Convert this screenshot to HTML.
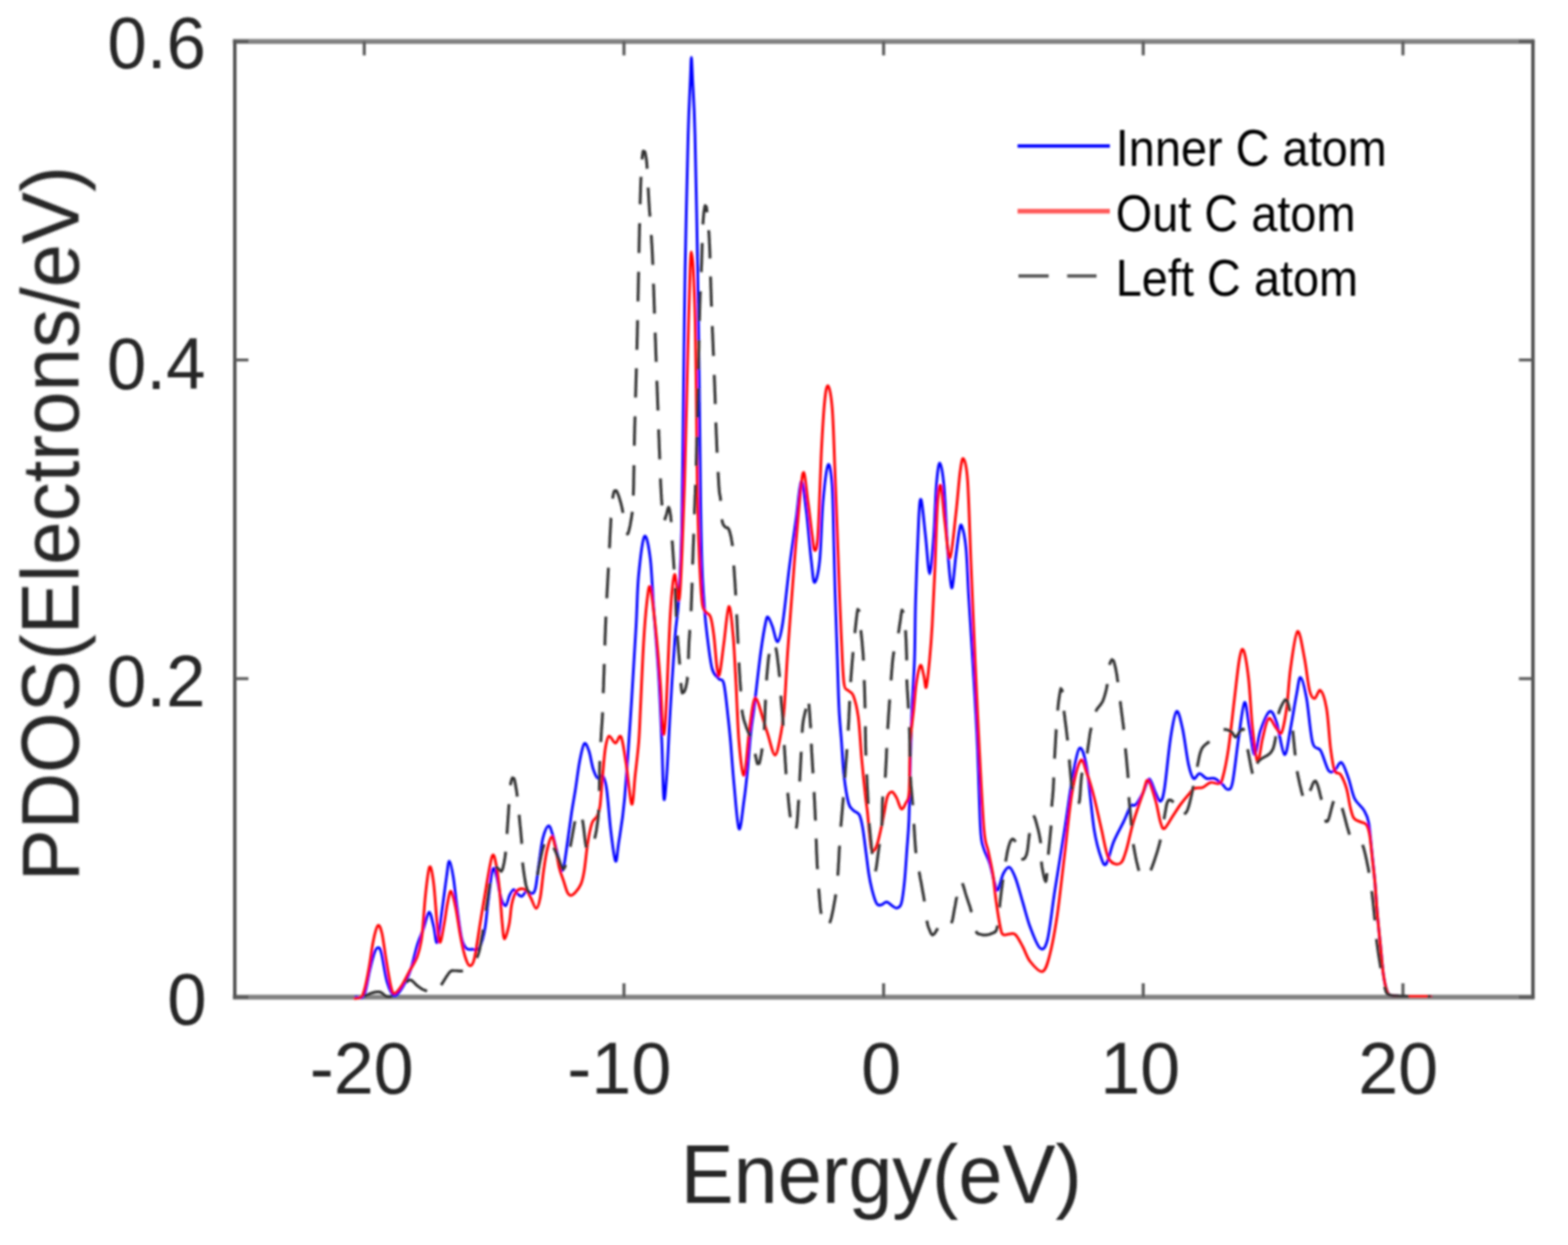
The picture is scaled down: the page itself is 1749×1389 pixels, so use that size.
<!DOCTYPE html>
<html><head><meta charset="utf-8"><title>PDOS</title>
<style>html,body{margin:0;padding:0;background:#fff;overflow:hidden;}svg{display:block;}text{font-family:"Liberation Sans",Arial,Helvetica,sans-serif;}</style></head><body>
<svg width="1749" height="1389" viewBox="0 0 1749 1389">
<defs><filter id="b" x="0" y="0" width="1749" height="1389" filterUnits="userSpaceOnUse"><feGaussianBlur stdDeviation="0.8"/></filter></defs>
<rect width="1749" height="1389" fill="#fff"/>
<g filter="url(#b)">
<path d="M259.7 46.2H1711.6M259.7 1112.5H1711.6" stroke="#828282" stroke-width="5.4" fill="none"/>
<path d="M261.9 44.4V1114.3M1709.9 44.4V1114.3" stroke="#505050" stroke-width="3.8" fill="none"/>
<path d="M406.3 46.2V61.8M696.0 1112.5V1096.9M696.0 46.2V61.8M985.6 1112.5V1096.9M985.6 46.2V61.8M1275.2 1112.5V1096.9M1275.2 46.2V61.8M1564.9 1112.5V1096.9M1564.9 46.2V61.8M261.5 1112.5H277.1M1709.8 1112.5H1694.2M261.5 757.1H277.1M1709.8 757.1H1694.2M261.5 401.6H277.1M1709.8 401.6H1694.2M261.5 46.2H277.1M1709.8 46.2H1694.2" stroke="#5a5a5a" stroke-width="3.4" fill="none"/>
<g fill="none" stroke-linejoin="round" stroke-linecap="round">
<path d="M397.0 1112.0C398.5 1111.8 403.3 1116.0 405.9 1111.1C408.5 1106.2 410.4 1090.6 412.4 1082.6C414.3 1074.6 416.1 1067.3 417.6 1063.1C419.1 1058.9 420.2 1057.3 421.5 1057.3C422.8 1057.3 423.7 1056.7 425.4 1063.1C427.1 1069.5 429.4 1087.5 431.8 1095.5C434.2 1103.5 436.8 1109.9 439.6 1111.0C442.4 1112.1 445.7 1106.7 448.7 1102.0C451.7 1097.3 455.0 1090.6 457.8 1082.6C460.6 1074.6 463.1 1061.7 465.5 1054.1C467.9 1046.5 469.8 1043.2 472.0 1037.2C474.2 1031.2 476.6 1018.4 478.5 1017.8C480.4 1017.1 482.2 1027.7 483.7 1033.3C485.2 1038.9 486.1 1054.1 487.6 1051.5C489.1 1048.9 491.1 1029.9 492.8 1017.8C494.5 1005.7 496.6 988.4 498.0 978.9C499.4 969.4 499.9 960.7 501.2 960.7C502.5 960.7 504.3 970.5 505.7 978.9C507.1 987.3 508.1 1000.1 509.6 1011.3C511.1 1022.5 513.1 1038.5 514.8 1046.3C516.5 1054.1 518.0 1055.9 520.0 1058.0C522.0 1060.1 524.6 1059.0 527.0 1059.0C529.4 1059.0 531.9 1061.6 534.2 1058.0C536.5 1054.4 539.0 1046.1 540.7 1037.2C542.4 1028.3 543.1 1016.0 544.6 1004.8C546.1 993.6 547.9 974.3 549.5 970.0C551.1 965.7 552.7 973.5 554.2 978.8C555.7 984.0 557.1 996.2 558.7 1001.5C560.3 1006.8 562.4 1011.0 564.0 1010.5C565.6 1010.0 567.1 1001.5 568.6 998.5C570.1 995.5 571.7 992.7 573.1 992.4C574.5 992.1 575.4 995.6 576.9 996.9C578.4 998.2 580.4 1000.5 582.2 1000.0C584.0 999.5 585.6 994.4 587.5 993.9C589.4 993.4 591.9 997.4 593.5 996.9C595.1 996.4 596.0 996.4 597.3 990.9C598.6 985.4 599.7 973.0 601.1 963.7C602.5 954.4 603.8 942.0 605.6 934.9C607.4 927.8 609.9 922.0 611.7 921.3C613.5 920.5 614.7 925.9 616.2 930.4C617.7 934.9 619.2 942.7 620.7 948.5C622.2 954.3 624.0 961.7 625.3 965.2C626.6 968.7 627.0 973.7 628.3 969.7C629.5 965.7 631.3 951.3 632.8 941.0C634.3 930.7 635.9 917.8 637.4 907.7C638.9 897.6 640.4 890.1 641.9 880.5C643.4 870.9 644.8 858.7 646.4 850.2C648.0 841.8 649.9 831.8 651.7 829.8C653.5 827.8 655.4 833.4 657.0 838.1C658.6 842.8 660.0 852.8 661.6 857.8C663.2 862.8 665.1 867.1 666.9 868.4C668.7 869.7 670.6 863.4 672.2 865.4C673.8 867.4 675.2 870.4 676.7 880.5C678.2 890.6 679.6 912.5 681.2 925.9C682.8 939.2 685.0 958.1 686.5 960.6C688.0 963.1 688.3 952.6 690.0 941.0C691.7 929.4 694.3 917.6 696.7 890.8C699.1 864.0 702.5 812.0 704.6 780.0C706.7 748.0 708.2 721.4 709.5 698.5C710.8 675.6 710.7 659.1 712.3 642.4C713.9 625.7 716.7 601.5 718.9 598.4C721.1 595.3 723.7 610.0 725.4 623.6C727.1 637.2 727.6 657.9 729.2 679.8C730.8 701.6 733.3 729.7 734.8 754.7C736.3 779.7 737.3 807.3 738.3 830.0C739.2 852.7 739.6 885.2 740.5 891.0C741.4 896.8 742.5 881.0 743.7 865.0C744.9 849.0 746.0 820.8 747.5 795.0C749.0 769.2 751.4 730.7 753.0 710.0C754.6 689.3 755.6 691.0 756.9 671.0C758.1 651.0 759.6 630.2 760.5 590.0C761.4 549.8 761.9 478.3 762.5 430.0C763.1 381.7 763.4 346.7 764.2 300.0C765.1 253.3 766.6 185.0 767.6 150.0C768.6 115.0 769.4 104.3 770.0 90.0C770.6 75.7 770.8 64.0 771.2 64.0C771.6 64.0 771.9 75.7 772.6 90.0C773.3 104.3 774.3 115.0 775.2 150.0C776.1 185.0 777.4 253.3 778.2 300.0C779.0 346.7 779.5 386.7 780.0 430.0C780.5 473.3 781.0 526.1 781.5 560.0C782.0 593.9 782.4 613.5 783.1 633.6C783.8 653.7 785.0 667.9 785.9 680.4C786.8 692.9 787.3 697.6 788.7 708.5C790.1 719.4 792.1 737.9 794.3 746.0C796.5 754.1 799.6 754.4 801.8 757.2C804.0 760.0 805.7 755.7 807.4 762.8C809.1 769.9 810.9 789.2 812.1 800.0C813.4 810.8 813.8 815.1 814.9 827.5C816.0 839.9 817.1 858.1 818.7 874.3C820.3 890.5 822.4 921.7 824.3 924.8C826.2 927.9 828.3 903.6 829.9 893.0C831.5 882.4 832.4 873.7 833.6 861.2C834.9 848.7 836.1 830.0 837.4 818.1C838.6 806.2 839.2 805.1 841.1 790.0C843.0 774.9 846.4 743.4 848.6 727.3C850.8 711.2 852.8 700.0 854.2 693.6C855.6 687.2 855.8 688.0 857.0 688.9C858.2 689.8 860.0 694.7 861.7 699.2C863.4 703.7 865.4 716.6 867.3 716.0C869.2 715.4 870.8 709.1 873.0 695.4C875.2 681.7 877.9 653.1 880.4 633.6C882.9 614.1 885.9 594.5 888.1 578.5C890.3 562.5 891.8 538.8 893.7 537.3C895.6 535.8 897.4 554.5 899.3 569.2C901.2 583.9 903.3 611.9 904.9 625.4C906.5 638.9 907.0 650.0 908.6 650.0C910.2 650.0 912.7 640.4 914.3 625.4C915.9 610.4 916.4 577.6 918.0 559.8C919.6 542.0 922.0 521.7 923.7 518.6C925.4 515.5 927.2 527.4 928.2 541.0C929.2 554.6 929.5 580.2 930.0 600.0C930.5 619.8 930.8 637.5 931.5 660.0C932.2 682.5 933.3 713.1 934.0 734.9C934.7 756.7 935.1 775.4 935.9 791.0C936.7 806.6 937.8 815.9 938.7 828.4C939.6 840.9 940.2 854.7 941.5 866.0C942.8 877.3 944.8 889.7 946.5 896.0C948.2 902.3 949.8 901.8 951.8 904.0C953.8 906.2 956.8 905.8 958.5 909.0C960.2 912.2 961.0 916.5 962.2 923.2C963.4 929.9 964.6 940.5 965.7 949.1C966.9 957.8 968.0 967.9 969.1 975.1C970.2 982.3 971.2 986.8 972.6 992.3C974.0 997.8 976.1 1005.0 977.8 1007.9C979.5 1010.8 981.1 1009.9 983.0 1009.6C984.9 1009.3 987.0 1006.1 989.0 1006.2C991.0 1006.4 993.2 1009.4 995.1 1010.5C997.0 1011.6 998.5 1013.5 1000.2 1013.1C1001.9 1012.7 1004.0 1012.8 1005.4 1007.9C1006.8 1003.0 1007.9 993.5 1008.9 983.7C1009.9 973.9 1010.7 960.7 1011.5 949.1C1012.3 937.5 1013.2 931.0 1013.9 914.0C1014.5 897.0 1014.8 867.6 1015.4 847.1C1016.0 826.6 1016.5 809.7 1017.3 791.0C1018.1 772.3 1019.4 755.1 1020.1 734.9C1020.8 714.7 1020.5 696.1 1021.3 670.0C1022.1 643.9 1023.8 597.2 1024.8 578.5C1025.8 559.8 1026.3 554.8 1027.6 557.9C1028.8 561.0 1030.7 583.6 1032.3 597.3C1033.9 611.0 1035.5 640.3 1037.0 640.3C1038.5 640.3 1040.3 613.8 1041.6 597.3C1042.8 580.8 1043.4 554.5 1044.5 541.1C1045.6 527.7 1046.9 516.3 1048.3 516.6C1049.7 516.9 1051.6 527.2 1053.0 543.0C1054.4 558.8 1055.5 592.3 1056.9 611.1C1058.3 629.9 1060.0 654.5 1061.5 656.0C1063.0 657.5 1064.8 631.0 1066.2 620.4C1067.6 609.8 1068.9 598.0 1070.0 592.4C1071.1 586.8 1071.5 583.6 1072.8 586.7C1074.0 589.8 1076.2 598.1 1077.5 611.1C1078.8 624.1 1079.2 642.7 1080.5 665.0C1081.8 687.3 1083.9 717.5 1085.5 745.0C1087.1 772.5 1088.9 800.3 1090.2 830.0C1091.5 859.7 1092.5 903.9 1093.6 923.2C1094.7 942.5 1095.3 939.1 1097.0 945.7C1098.7 952.3 1101.9 956.7 1103.9 963.0C1105.9 969.3 1107.6 978.7 1109.1 983.7C1110.6 988.7 1111.1 994.5 1112.8 993.0C1114.5 991.5 1117.0 978.7 1119.2 974.5C1121.4 970.3 1123.7 966.7 1126.0 967.6C1128.3 968.5 1130.3 973.3 1132.8 979.9C1135.3 986.5 1138.3 998.2 1141.0 1007.3C1143.7 1016.4 1146.0 1026.2 1149.2 1034.6C1152.4 1043.0 1157.0 1055.6 1160.2 1057.9C1163.4 1060.2 1165.7 1059.0 1168.4 1048.3C1171.1 1037.6 1173.4 1014.1 1176.6 993.6C1179.8 973.1 1184.4 945.7 1187.6 925.2C1190.8 904.7 1193.1 885.5 1195.8 870.5C1198.5 855.5 1201.3 837.2 1204.0 834.9C1206.7 832.6 1209.5 841.8 1212.2 856.8C1214.9 871.8 1217.7 908.3 1220.4 925.2C1223.1 942.1 1226.3 951.6 1228.6 958.0C1230.9 964.4 1231.8 966.7 1234.1 963.5C1236.4 960.3 1239.1 946.6 1242.3 938.9C1245.5 931.1 1250.0 923.6 1253.2 917.0C1256.4 910.4 1259.1 902.4 1261.4 899.2C1263.7 896.0 1264.6 900.3 1266.9 897.8C1269.2 895.3 1272.6 889.0 1275.1 884.2C1277.6 879.4 1279.6 869.1 1281.9 869.1C1284.2 869.1 1286.7 880.1 1288.8 884.2C1290.9 888.4 1292.7 894.8 1294.4 894.0C1296.1 893.2 1297.0 891.4 1298.9 879.7C1300.8 868.0 1303.4 838.2 1305.6 823.9C1307.8 809.6 1310.1 795.7 1312.3 793.8C1314.5 791.9 1316.8 802.9 1319.0 812.7C1321.2 822.6 1323.7 843.6 1325.7 852.9C1327.8 862.2 1329.2 866.8 1331.3 868.5C1333.3 870.2 1335.6 863.0 1338.0 863.0C1340.4 863.0 1343.0 867.6 1345.8 868.5C1348.6 869.4 1351.7 867.4 1354.7 868.5C1357.7 869.6 1361.2 873.2 1363.6 875.2C1366.0 877.2 1367.3 881.2 1369.2 880.8C1371.1 880.4 1372.8 882.5 1374.8 873.0C1376.8 863.5 1379.3 838.8 1381.5 823.9C1383.7 809.0 1386.2 785.6 1388.2 783.7C1390.2 781.8 1391.9 803.0 1393.8 812.7C1395.7 822.4 1397.4 841.4 1399.4 841.8C1401.4 842.2 1403.2 823.0 1406.0 815.0C1408.8 807.0 1413.1 795.3 1416.1 793.8C1419.1 792.3 1421.1 798.0 1423.9 806.0C1426.7 814.0 1430.2 840.7 1432.8 841.8C1435.4 842.9 1437.3 823.9 1439.5 812.7C1441.7 801.5 1444.3 784.3 1446.2 774.8C1448.1 765.3 1448.8 755.0 1450.7 755.8C1452.6 756.5 1455.2 767.2 1457.4 779.3C1459.6 791.4 1461.5 818.7 1464.1 828.4C1466.7 838.1 1470.0 832.1 1473.0 837.3C1476.0 842.5 1479.3 855.9 1481.9 859.6C1484.5 863.3 1486.2 861.1 1488.6 859.6C1491.0 858.1 1493.8 849.2 1496.4 850.7C1499.0 852.2 1501.8 861.8 1504.2 868.5C1506.6 875.2 1508.0 884.8 1510.9 890.8C1513.8 896.8 1518.9 899.7 1521.5 904.2C1524.1 908.7 1525.3 910.5 1526.7 918.0C1528.1 925.5 1528.9 938.1 1530.1 949.1C1531.2 960.1 1532.6 972.2 1533.6 983.7C1534.6 995.2 1535.2 1006.8 1536.2 1018.3C1537.2 1029.8 1538.4 1041.3 1539.6 1052.8C1540.8 1064.3 1541.8 1078.5 1543.1 1087.4C1544.4 1096.3 1545.8 1102.5 1547.4 1106.4C1549.0 1110.3 1548.8 1109.9 1552.6 1110.7C1556.4 1111.5 1562.8 1111.4 1570.0 1111.5C1577.2 1111.6 1591.7 1111.5 1596.0 1111.5" stroke="#0000ff" stroke-width="3.0"/>
<path d="M395.8 1114.0C397.3 1113.3 402.1 1115.0 404.6 1109.8C407.2 1104.6 409.2 1092.5 411.1 1082.6C413.1 1072.7 414.6 1058.5 416.3 1050.2C418.0 1041.9 419.9 1034.2 421.5 1032.7C423.1 1031.2 424.5 1034.8 426.0 1041.0C427.5 1047.2 428.9 1059.9 430.5 1069.6C432.1 1079.3 434.2 1092.9 435.7 1099.4C437.2 1105.9 437.7 1108.3 439.6 1108.5C441.6 1108.7 444.6 1104.8 447.4 1100.7C450.2 1096.6 453.5 1089.5 456.5 1083.9C459.5 1078.3 463.1 1073.7 465.5 1067.0C467.9 1060.3 469.2 1055.2 470.7 1043.7C472.2 1032.2 473.2 1011.0 474.6 998.3C476.0 985.5 477.7 969.4 479.2 967.2C480.7 965.1 482.3 974.8 483.7 985.4C485.1 996.0 486.4 1019.7 487.6 1030.7C488.8 1041.7 489.5 1051.5 490.8 1051.5C492.1 1051.5 494.0 1038.0 495.4 1030.7C496.8 1023.4 497.9 1013.5 499.2 1007.4C500.5 1001.3 501.6 993.5 503.1 994.4C504.6 995.3 506.6 1004.4 508.3 1012.6C510.0 1020.8 511.8 1034.6 513.5 1043.7C515.2 1052.8 517.0 1061.4 518.7 1067.0C520.4 1072.6 522.2 1077.0 523.9 1077.4C525.6 1077.8 527.2 1077.4 529.1 1069.6C531.0 1061.8 533.4 1043.7 535.5 1030.7C537.6 1017.7 539.8 1004.4 542.0 991.8C544.2 979.2 547.1 959.5 549.0 955.0C550.9 950.5 552.1 958.3 553.5 965.0C554.9 971.7 556.3 984.2 557.4 995.0C558.5 1005.8 559.3 1021.2 560.2 1030.0C561.1 1038.8 561.5 1047.5 562.8 1047.6C564.1 1047.7 566.7 1037.1 568.0 1030.7C569.3 1024.3 569.6 1014.9 570.8 1009.0C572.0 1003.1 573.6 998.3 575.4 995.4C577.2 992.5 579.4 991.9 581.4 991.6C583.4 991.4 585.7 992.2 587.5 993.9C589.3 995.5 590.2 998.2 592.0 1001.5C593.8 1004.8 596.3 1013.6 598.1 1013.6C599.9 1013.6 601.2 1008.6 602.6 1001.5C604.0 994.4 605.1 980.0 606.4 971.2C607.7 962.4 608.7 954.8 610.2 948.5C611.7 942.2 613.9 934.1 615.4 933.4C616.9 932.6 617.8 938.2 619.2 944.0C620.6 949.8 622.3 961.9 623.8 968.2C625.3 974.5 626.8 977.3 628.3 981.8C629.8 986.3 631.4 992.5 632.8 995.4C634.2 998.3 635.1 999.0 636.6 999.0C638.1 999.0 640.0 997.5 641.9 995.4C643.8 993.3 646.4 990.4 648.0 986.4C649.6 982.4 650.5 978.8 651.7 971.2C653.0 963.6 654.1 949.8 655.5 941.0C656.9 932.2 658.5 923.6 660.3 918.5C662.0 913.4 664.5 913.8 666.0 910.5C667.5 907.2 668.3 906.5 669.3 899.0C670.3 891.5 671.2 876.0 672.2 865.4C673.2 854.8 674.0 842.5 675.2 835.1C676.4 827.7 677.4 822.2 679.3 821.2C681.2 820.2 684.2 829.0 686.4 829.1C688.6 829.2 690.7 818.3 692.7 822.0C694.7 825.7 696.3 838.8 698.3 851.3C700.3 863.8 702.9 894.9 704.6 897.2C706.3 899.5 707.2 876.6 708.5 865.0C709.8 853.4 711.5 840.0 712.5 827.5C713.5 815.0 713.5 808.4 714.4 790.0C715.3 771.6 716.7 737.2 717.9 717.3C719.1 697.4 720.5 680.7 721.7 670.4C723.0 660.1 723.9 650.8 725.4 655.5C726.9 660.2 729.1 680.4 731.0 698.5C732.9 716.6 735.3 744.5 736.7 764.1C738.1 783.7 738.4 810.0 739.4 816.0C740.4 822.0 741.1 821.8 742.5 800.0C743.9 778.2 746.1 711.5 747.7 685.0C749.4 658.5 750.8 643.7 752.4 641.0C754.0 638.3 756.1 673.3 757.5 669.0C758.9 664.7 759.8 636.5 760.8 615.0C761.8 593.5 762.7 567.5 763.5 540.0C764.3 512.5 765.0 480.0 765.8 450.0C766.5 420.0 767.3 385.0 768.0 360.0C768.7 335.0 769.3 313.2 769.8 300.0C770.3 286.8 770.6 281.0 771.2 281.0C771.8 281.0 772.6 286.8 773.3 300.0C774.0 313.2 774.9 335.0 775.5 360.0C776.1 385.0 776.4 420.0 776.8 450.0C777.2 480.0 777.3 511.7 777.8 540.0C778.3 568.3 779.1 598.1 780.0 620.0C780.9 641.9 782.0 660.7 783.1 671.1C784.2 681.5 785.2 679.5 786.8 682.3C788.3 685.1 790.8 683.5 792.4 687.9C794.0 692.3 795.0 698.8 796.2 708.5C797.5 718.2 798.8 738.8 799.9 746.0C801.0 753.2 801.5 756.3 802.7 751.6C804.0 746.9 805.7 730.4 807.4 717.9C809.1 705.4 811.3 678.3 813.0 676.7C814.7 675.1 816.4 694.6 817.7 708.5C819.0 722.4 819.7 740.2 820.8 760.0C821.9 779.8 822.8 810.0 824.3 827.5C825.8 845.0 828.0 866.5 829.9 864.9C831.8 863.3 833.9 830.6 835.5 818.1C837.1 805.6 838.2 796.5 839.3 790.0C840.4 783.5 841.0 779.8 842.1 779.0C843.2 778.2 844.4 780.7 846.0 785.0C847.6 789.3 850.3 799.5 852.0 805.0C853.7 810.5 854.0 811.9 856.1 818.1C858.2 824.3 862.0 842.4 864.5 842.4C867.0 842.4 869.4 826.8 871.1 818.1C872.8 809.4 873.5 805.1 874.8 790.0C876.0 774.9 877.0 750.2 878.6 727.3C880.2 704.4 882.6 674.1 884.2 652.4C885.9 630.7 886.6 618.0 888.5 597.3C890.4 576.6 893.5 534.2 895.6 528.0C897.7 521.8 899.5 548.2 901.2 559.8C902.9 571.3 904.6 588.2 905.9 597.3C907.1 606.3 907.6 614.1 908.7 614.1C909.8 614.1 911.1 615.7 912.4 597.3C913.6 578.9 915.0 528.6 916.2 503.6C917.5 478.6 918.6 459.7 919.9 447.5C921.1 435.3 922.3 429.1 923.7 430.6C925.1 432.2 927.1 441.5 928.4 456.8C929.6 472.1 930.3 499.0 931.2 522.4C932.1 545.8 933.1 573.5 934.0 597.3C934.9 621.1 935.7 645.2 936.5 665.0C937.3 684.8 937.9 699.8 938.7 716.1C939.5 732.4 940.2 753.9 941.5 762.9C942.8 771.9 944.5 768.2 946.2 770.4C947.9 772.6 949.9 771.0 951.8 776.0C953.7 781.0 955.8 788.4 957.4 800.3C959.0 812.1 959.8 831.8 961.2 847.1C962.6 862.4 964.7 882.2 965.8 892.0C966.9 901.8 966.9 899.4 967.6 906.0C968.3 912.6 969.2 924.6 970.0 931.8C970.8 939.0 971.3 947.1 972.6 949.1C973.9 951.1 976.1 948.2 977.8 943.9C979.5 939.6 981.6 929.5 983.0 923.2C984.4 916.9 985.2 911.7 986.4 905.9C987.5 900.1 988.4 892.3 989.9 888.6C991.4 884.9 993.4 883.2 995.1 883.5C996.8 883.8 998.5 887.2 1000.2 890.4C1001.9 893.6 1003.7 901.6 1005.4 902.5C1007.1 903.4 1009.1 898.8 1010.6 895.6C1012.1 892.4 1013.3 894.7 1014.1 883.5C1014.9 872.3 1014.5 843.8 1015.4 828.4C1016.2 813.0 1018.1 801.9 1019.2 791.0C1020.3 780.1 1020.8 771.0 1022.0 762.9C1023.2 754.8 1025.3 743.8 1026.7 742.3C1028.1 740.8 1029.3 749.5 1030.4 753.6C1031.5 757.7 1032.1 769.8 1033.2 766.7C1034.3 763.6 1035.9 746.5 1037.0 734.9C1038.1 723.3 1038.9 713.2 1039.8 697.4C1040.7 681.6 1041.6 662.2 1042.6 640.0C1043.6 617.8 1044.5 580.7 1045.6 564.3C1046.7 547.9 1048.0 538.7 1049.4 541.8C1050.8 544.9 1052.3 569.6 1054.0 583.0C1055.7 596.4 1057.7 623.9 1059.7 622.3C1061.7 620.7 1064.3 589.5 1066.2 573.6C1068.1 557.7 1069.5 537.1 1070.9 526.8C1072.3 516.5 1073.2 510.2 1074.6 511.8C1076.0 513.4 1077.9 516.5 1079.3 536.2C1080.7 555.9 1081.7 595.8 1083.1 629.8C1084.5 663.8 1086.3 707.0 1087.8 740.0C1089.3 773.0 1090.4 797.2 1092.0 828.0C1093.6 858.8 1095.8 904.8 1097.5 925.0C1099.2 945.2 1100.5 940.8 1102.2 949.1C1103.9 957.5 1106.0 966.0 1107.4 975.1C1108.9 984.2 1109.5 993.9 1110.9 1004.0C1112.3 1014.1 1114.6 1029.0 1116.0 1035.5C1117.4 1042.0 1117.5 1041.7 1119.2 1042.8C1120.9 1043.9 1123.7 1042.0 1126.0 1042.0C1128.3 1042.0 1130.3 1040.4 1132.8 1042.8C1135.3 1045.2 1138.3 1051.5 1141.0 1056.5C1143.7 1061.5 1145.5 1068.3 1149.2 1072.9C1152.9 1077.5 1159.2 1085.3 1162.9 1083.9C1166.6 1082.5 1168.4 1075.2 1171.1 1064.7C1173.8 1054.2 1176.5 1039.7 1179.3 1021.0C1182.0 1002.3 1184.8 975.4 1187.6 952.6C1190.3 929.8 1192.8 901.5 1195.8 884.2C1198.8 866.9 1202.6 852.2 1205.3 848.6C1208.0 845.0 1209.7 855.5 1212.2 862.3C1214.7 869.1 1217.7 879.1 1220.4 889.6C1223.1 900.1 1225.9 913.8 1228.6 925.2C1231.3 936.6 1233.4 951.6 1236.8 958.0C1240.2 964.4 1245.9 964.9 1249.1 963.5C1252.3 962.1 1253.4 957.5 1255.9 949.8C1258.4 942.0 1261.0 927.9 1264.2 917.0C1267.4 906.1 1272.4 892.0 1275.1 884.2C1277.8 876.5 1278.3 869.1 1280.6 870.5C1282.9 871.9 1286.5 884.5 1288.8 892.4C1291.1 900.2 1292.8 912.3 1294.5 917.6C1296.2 922.9 1296.7 925.4 1298.9 924.3C1301.1 923.2 1304.9 915.4 1307.9 910.9C1310.9 906.4 1313.8 901.6 1316.8 897.5C1319.8 893.4 1323.1 889.4 1325.7 886.4C1328.3 883.4 1329.8 881.0 1332.4 879.7C1335.0 878.4 1338.3 879.7 1341.3 878.6C1344.3 877.5 1347.3 873.8 1350.3 873.0C1353.3 872.2 1357.0 874.9 1359.2 874.1C1361.4 873.4 1361.8 875.0 1363.6 868.5C1365.4 862.0 1368.1 850.0 1370.3 835.1C1372.5 820.2 1375.0 796.0 1377.0 779.3C1379.0 762.5 1380.9 743.5 1382.6 734.6C1384.3 725.7 1385.4 722.0 1387.1 725.7C1388.8 729.4 1391.0 742.5 1392.7 757.0C1394.4 771.5 1395.4 797.3 1397.1 812.7C1398.8 828.1 1400.8 847.7 1402.7 849.6C1404.6 851.5 1406.2 831.9 1408.3 823.9C1410.3 815.9 1412.4 803.5 1415.0 801.6C1417.6 799.7 1421.5 810.1 1423.9 812.7C1426.3 815.3 1427.6 820.9 1429.5 817.2C1431.4 813.5 1433.4 802.3 1435.1 790.4C1436.8 778.5 1437.5 760.1 1439.5 745.8C1441.5 731.5 1444.7 706.4 1447.3 704.5C1449.9 702.6 1452.9 723.6 1455.1 734.6C1457.3 745.6 1458.8 762.8 1460.7 770.3C1462.6 777.8 1464.2 779.3 1466.3 779.3C1468.3 779.3 1470.8 768.4 1473.0 770.3C1475.2 772.1 1477.8 779.6 1479.7 790.4C1481.6 801.2 1482.7 823.6 1484.2 835.1C1485.7 846.6 1486.8 854.8 1488.6 859.6C1490.4 864.4 1493.1 860.8 1495.3 864.1C1497.5 867.5 1500.2 873.7 1502.0 879.7C1503.8 885.7 1504.6 894.5 1506.0 900.0C1507.4 905.5 1508.2 909.9 1510.2 912.8C1512.2 915.7 1515.7 916.0 1518.0 917.2C1520.3 918.4 1522.5 917.5 1524.1 919.8C1525.7 922.1 1526.5 924.3 1527.7 931.0C1528.9 937.7 1530.0 951.2 1531.0 960.0C1532.0 968.8 1532.7 974.0 1533.6 983.7C1534.5 993.4 1535.2 1006.8 1536.2 1018.3C1537.2 1029.8 1538.4 1041.3 1539.6 1052.8C1540.8 1064.3 1541.8 1078.5 1543.1 1087.4C1544.4 1096.3 1545.8 1102.5 1547.4 1106.4C1549.0 1110.3 1548.8 1109.9 1552.6 1110.7C1556.4 1111.5 1562.8 1111.4 1570.0 1111.5C1577.2 1111.6 1591.7 1111.5 1596.0 1111.5" stroke="#ff0000" stroke-width="3.0"/>
<path d="M406.5 1111.6L408.5 1110.6L410.4 1109.7L412.4 1108.8L414.4 1108.0L416.5 1107.4L418.5 1106.9L420.6 1106.6L422.6 1106.6L424.8 1107.1L426.7 1108.3L428.2 1109.7L430.0 1111.2L431.8 1112.0L434.0 1112.2L436.2 1111.8L437.9 1111.2M453.2 1096.1L454.8 1094.6L456.4 1093.3L458.4 1093.4L460.2 1094.6L461.8 1096.2L463.4 1097.8L465.0 1099.4L466.8 1100.7L468.6 1102.0L470.3 1103.2L472.1 1104.1L474.0 1104.9L476.0 1105.5L476.4 1105.6M492.0 1099.0L493.4 1097.0L494.7 1094.9L496.1 1092.6L497.2 1090.9L498.3 1089.2L499.7 1087.1L500.9 1085.4L502.6 1083.7L504.4 1082.8L506.5 1083.0L508.5 1083.0L510.6 1083.2L512.9 1083.4L514.9 1083.4L516.4 1083.0M531.6 1068.8L532.6 1067.0L533.4 1064.9L534.1 1062.6L534.8 1060.1L535.2 1058.1L535.6 1055.9L536.0 1053.7L536.4 1051.4L536.8 1049.1L537.2 1046.6L537.6 1044.2L538.1 1041.6L538.5 1038.9L538.8 1037.0M541.9 1016.3L542.2 1014.3L542.5 1012.2L542.8 1010.1L543.1 1007.9L543.4 1005.7L543.8 1003.6L544.1 1001.4L544.4 999.2L544.7 997.1L545.0 995.0L545.3 993.0L545.7 990.2L546.1 987.6L546.5 985.4L546.5 985.3M552.7 966.7L554.4 967.8L555.7 969.3L557.4 970.8L558.9 972.2L560.3 970.4L561.0 968.2L561.5 965.9L562.1 963.4L562.5 961.3L562.8 959.2L563.2 957.0L563.5 954.9L563.8 952.8L564.0 950.8L564.1 950.3M565.5 930.4L565.7 927.6L565.9 924.7L566.0 922.7L566.2 920.6L566.3 918.5L566.5 916.3L566.6 914.2L566.8 912.0L566.9 909.9L567.1 907.8L567.2 905.7L567.3 903.7L567.5 900.8L567.7 898.1L567.8 897.1M569.3 876.0L569.7 873.9L570.1 871.9L570.7 869.7L571.5 867.9L573.4 868.5L574.1 870.9L574.6 873.5L575.0 875.6L575.4 877.9L575.8 880.3L576.2 882.6L576.5 884.9L576.8 887.0L577.0 888.7M579.0 909.0L579.3 911.9L579.5 913.9L579.7 916.0L579.9 918.2L580.1 920.4L580.4 922.7L580.6 924.9L580.8 927.2L581.0 929.4L581.2 931.7L581.4 933.8L581.6 935.9L581.8 937.9L582.0 940.7L582.1 941.5M582.9 962.2L583.2 964.8L583.6 967.7L583.8 969.7L584.1 971.8L584.4 973.9L584.7 976.0L585.0 978.1L585.4 980.1L585.8 983.1L586.3 985.7L586.8 988.1L587.5 990.5L588.2 992.8L589.3 994.7L591.0 995.9L591.4 995.9M599.6 976.9L599.9 974.6L600.3 972.0L600.7 969.6L601.2 967.2L601.6 964.8L602.1 962.4L602.6 959.9L603.1 957.4L603.6 954.9L604.1 952.6L604.6 950.3L605.1 948.1L605.7 946.2L606.4 943.9L607.0 941.9M617.7 945.5L618.6 947.5L619.5 949.6L620.4 951.7L621.3 953.9L622.1 956.0L623.0 958.0L623.9 960.2L624.6 962.2L625.4 964.3L626.1 966.2L627.0 968.1L628.3 969.7L629.8 967.9L630.5 965.7L630.7 964.6M636.1 944.7L636.6 941.9L637.0 939.8L637.4 937.6L637.8 935.2L638.3 932.8L638.7 930.3L639.1 927.9L639.6 925.4L640.0 923.1L640.4 920.8L640.8 918.8L641.3 916.2M649.6 914.5L650.1 917.0L650.4 918.9L650.7 921.2L651.0 923.5L651.3 926.0L651.6 928.6L651.9 931.1L652.2 933.7L652.5 936.1L652.8 938.5L653.1 940.6L653.6 943.4L654.0 945.5L654.1 945.9M663.3 935.7L663.8 933.5L664.3 931.2L664.8 928.7L665.3 926.0L665.7 923.1L666.0 921.0L666.3 918.9L666.6 916.6L666.9 914.2L667.2 911.7L667.4 909.0L667.6 906.2L667.8 903.2M668.5 882.4L668.5 880.3L668.5 878.2L668.6 876.1L668.6 874.0L668.6 872.0L668.7 869.9L668.7 867.9L668.8 864.0L668.8 860.2L668.9 856.6L669.0 853.2L669.1 850.2L669.1 849.0M670.1 827.8L670.3 825.2L670.5 822.7L670.6 820.0L670.7 817.5L670.9 815.2L671.0 813.2L671.2 810.6L671.4 807.9L671.6 805.7L671.7 803.2L671.9 800.4L672.0 798.2L672.1 795.8L672.2 794.6M672.9 773.4L673.0 769.7L673.2 765.9L673.3 762.1L673.4 758.3L673.5 754.5L673.7 750.8L673.8 747.1L673.9 743.5L674.0 740.8M674.7 720.1L674.8 716.5L674.9 712.8L675.0 709.2L675.2 705.6L675.3 701.9L675.4 698.3L675.6 694.6L675.7 691.0L675.9 687.9M676.9 667.5L677.0 663.9L677.2 660.2L677.4 656.6L677.6 653.0L677.8 649.4L678.0 645.8L678.2 642.1L678.4 638.5L678.6 634.9L678.7 633.4M679.8 611.7L680.0 607.8L680.2 604.0L680.3 600.2L680.5 596.5L680.7 592.9L680.9 589.5L681.1 586.3L681.2 583.4L681.4 580.6L681.5 578.1L681.6 577.8M683.3 556.2L683.7 554.0L684.1 551.9L684.6 549.6L685.4 547.6L687.4 547.3L688.4 549.1L689.3 551.2L690.0 553.0L690.7 555.1L691.4 557.4L692.1 559.8L692.8 562.3L693.4 564.8L694.0 567.4L694.4 569.6L694.8 571.9L694.8 572.3M698.4 596.0L700.4 595.6L701.3 593.0L701.9 590.4L702.6 587.5L703.0 585.5L703.3 583.4L703.7 581.4L704.1 579.4L704.5 576.6L704.9 574.1L705.2 572.0L705.4 571.0M706.4 552.9L706.5 550.0L706.6 546.9L706.7 543.5L706.8 539.9L706.8 536.2L706.9 532.2L706.9 530.1L707.0 528.0L707.0 525.9L707.1 523.7L707.1 521.5L707.1 519.2L707.1 518.9M707.5 497.3L707.6 494.7L707.6 492.0L707.7 489.4L707.7 486.7L707.8 484.0L707.9 481.2L707.9 478.4L708.0 475.5L708.1 472.5L708.2 469.5L708.3 466.4L708.3 464.4M708.9 443.5L709.0 440.1L709.1 436.7L709.2 433.3L709.3 429.9L709.4 426.4L709.5 423.0L709.6 419.6L709.7 416.2L709.8 412.9L709.9 410.9M710.4 390.2L710.5 387.2L710.6 384.2L710.6 381.2L710.7 378.1L710.8 375.1L710.9 372.0L710.9 369.0L711.0 366.0L711.1 362.9L711.1 359.9L711.2 357.3M711.6 336.3L711.7 333.5L711.7 330.7L711.8 328.0L711.9 325.3L711.9 322.7L712.0 320.1L712.0 317.5L712.1 315.1L712.1 312.6L712.2 310.3L712.2 308.0L712.3 305.8L712.3 303.6L712.3 303.3M712.7 282.2L712.8 279.6L712.8 277.1L712.9 274.7L712.9 272.2L713.0 269.7L713.0 267.1L713.1 264.4L713.2 261.5L713.2 258.4L713.3 255.2L713.4 251.9L713.5 249.0M714.0 227.9L714.1 224.5L714.2 221.3L714.3 218.2L714.4 215.2L714.5 212.4L714.5 209.7L714.6 207.1L714.7 204.6L714.8 202.2L714.9 199.8L715.0 197.5L715.0 197.3M716.2 177.9L716.4 175.3L716.7 173.0L717.0 170.6L717.4 168.5L719.3 169.2L719.8 171.4L720.2 173.4L720.6 175.8L721.0 178.0L721.2 180.3L721.5 182.7L721.6 184.9L721.8 187.6L721.9 188.2M723.0 209.3L723.1 211.9L723.3 214.6L723.4 217.3L723.6 220.1L723.7 223.0L723.9 226.0L724.1 229.0L724.3 232.2L724.5 235.4L724.8 238.7L725.0 241.6M726.4 262.2L726.7 266.0L726.9 270.0L727.2 273.9L727.3 275.9L727.4 278.0L727.5 280.0L727.6 282.1L727.7 284.2L727.8 286.3L727.9 288.5L728.0 290.7L728.1 293.0L728.2 295.2L728.2 295.4M728.9 316.5L729.0 318.9L729.1 321.3L729.2 323.7L729.3 326.0L729.3 328.4L729.4 330.7L729.5 333.0L729.6 335.3L729.6 337.5L729.7 339.8L729.8 342.0L729.9 344.1L729.9 346.2L730.0 348.3L730.1 349.9M730.8 371.1L730.9 374.7L731.0 378.2L731.2 381.7L731.3 385.2L731.4 388.6L731.5 392.1L731.6 395.6L731.8 399.2L731.9 402.8L731.9 403.8M732.7 424.7L732.8 428.3L733.0 431.9L733.1 435.6L733.2 439.2L733.4 442.8L733.5 446.4L733.6 450.0L733.8 453.6L733.9 457.2L733.9 457.9M734.7 479.0L734.8 482.7L734.9 486.3L735.1 489.8L735.2 493.3L735.3 496.8L735.4 500.1L735.6 503.4L735.7 506.6L735.8 509.7L735.9 512.5M736.7 533.8L736.8 536.2L736.9 538.6L737.0 541.0L737.1 543.3L737.3 545.7L737.4 548.0L737.5 550.4L737.7 552.9L737.8 555.4L738.0 557.9L738.2 560.5L738.3 563.0L738.4 563.9M741.4 580.4L742.0 578.3L742.6 576.2L743.3 574.2L743.9 571.9L744.4 569.7L744.9 567.8L745.8 565.9L746.7 567.8L747.2 570.0L747.5 572.1L747.9 574.4L748.2 576.9L748.4 579.4L748.7 581.8L748.7 582.5M749.8 603.0L749.9 605.3L750.1 607.6L750.3 610.1L750.4 612.7L750.6 615.4L750.8 618.2L751.0 621.1L751.2 624.0L751.4 627.0L751.6 630.1L751.8 633.2L752.0 635.4M753.1 656.0L753.2 658.1L753.3 661.8L753.5 665.5L753.6 669.3L753.8 673.1L753.9 676.9L754.1 680.6L754.2 684.4L754.4 688.0L754.4 688.4M755.6 709.0L755.8 712.2L756.0 715.2L756.2 718.0L756.5 720.8L756.7 723.6L756.9 726.3L757.1 728.9L757.4 731.6L757.6 734.1L757.8 736.7L758.0 739.1L758.2 741.4M759.5 762.0L759.7 764.2L759.9 766.3L760.2 769.0L760.5 771.2L761.1 773.2L763.0 772.2L763.9 770.2L764.7 767.7L765.3 765.4L765.8 763.0L766.3 760.3L766.7 757.6L766.9 755.5L767.0 755.3M767.9 735.2L768.0 732.2L768.1 729.3L768.1 726.3L768.3 723.5L768.4 720.7L768.5 718.0L768.6 715.4L768.8 713.0L769.0 710.6L769.1 708.2L769.3 705.9L769.4 703.6L769.5 702.7M770.8 681.9L771.0 678.8L771.1 675.5L771.2 672.1L771.4 668.5L771.5 664.8L771.6 661.0L771.8 657.1L771.9 653.2L772.0 650.1M772.6 629.8L772.7 626.1L772.9 622.5L773.0 619.0L773.1 615.6L773.2 612.2L773.3 608.8L773.5 605.5L773.6 602.2L773.7 598.9L773.8 595.5L773.8 595.5M774.6 573.7L774.7 570.3L774.8 566.9L775.0 563.6L775.1 560.3L775.2 557.0L775.3 553.7L775.5 550.4L775.6 547.0L775.7 543.5L775.8 540.8M776.5 519.9L776.6 517.8L776.6 515.5L776.7 513.1L776.8 510.8L776.8 508.4L776.9 505.9L777.0 503.4L777.0 500.9L777.1 498.4L777.2 495.8L777.2 493.2L777.3 490.6L777.4 488.0L777.4 487.0M777.9 466.0L778.0 463.1L778.0 460.2L778.1 457.4L778.2 454.5L778.2 451.6L778.3 448.7L778.4 445.8L778.4 442.9L778.5 440.0L778.6 437.0L778.6 434.0L778.7 433.1M779.1 412.2L779.2 407.7L779.2 404.3L779.3 400.9L779.4 397.4L779.4 394.0L779.5 390.6L779.6 387.2L779.6 383.8L779.7 380.4L779.7 379.3M780.2 358.3L780.2 355.5L780.3 352.7L780.4 350.0L780.4 347.5L780.5 345.0L780.6 342.6L780.6 340.4L780.7 338.2L780.8 336.2L780.9 332.2L781.0 328.6L781.2 325.2L781.2 324.9M782.2 303.6L782.3 300.7L782.4 297.6L782.6 294.4L782.7 291.0L782.8 287.6L782.9 284.1L783.0 280.6L783.1 277.1L783.2 273.6L783.3 271.1M784.1 250.4L784.2 248.0L784.4 245.8L784.5 243.7L784.8 240.8L785.0 238.1L785.3 235.8L785.6 233.7L786.0 231.4L786.5 229.3L788.0 230.9L788.3 233.4L788.6 235.8L788.7 236.8M790.5 256.9L790.7 259.3L790.9 261.8L791.0 264.5L791.2 267.3L791.3 270.4L791.5 273.7L791.6 277.1L791.8 280.8L791.9 284.6L792.0 288.4M792.6 308.4L792.6 310.7L792.7 313.1L792.8 315.5L792.8 317.9L792.9 320.4L793.0 322.8L793.1 325.3L793.2 327.8L793.2 330.4L793.3 332.9L793.4 335.4L793.5 338.0L793.6 340.6L793.7 342.2M794.5 363.7L794.6 366.8L794.7 369.9L794.9 373.0L795.0 376.2L795.1 379.3L795.3 382.5L795.4 385.6L795.5 388.8L795.6 391.9L795.8 395.0L795.9 397.1M796.7 418.3L796.8 420.9L796.9 423.5L797.0 426.0L797.1 428.4L797.2 430.8L797.3 433.0L797.3 435.3L797.4 437.4L797.5 439.6L797.6 441.7L797.6 443.7L797.7 445.7L797.8 449.6L797.8 450.7M798.5 471.4L798.6 475.0L798.8 478.7L798.9 482.5L799.1 486.4L799.2 488.4L799.3 490.4L799.4 492.5L799.4 494.6L799.5 496.8L799.6 498.9L799.7 501.1L799.8 503.3L799.9 505.1M801.0 526.5L801.2 530.3L801.4 533.9L801.6 537.1L801.7 540.1L801.9 542.7L802.1 544.9L802.3 547.5L802.5 549.9L802.9 551.9L803.4 554.1L803.6 556.3L803.9 558.8M805.3 579.4L805.6 581.7L806.1 583.7L806.9 585.6L808.2 587.2L809.8 588.6L811.8 588.9L813.0 590.6L813.8 592.9L814.5 595.3L815.0 597.5L815.6 599.9L816.0 602.5L816.4 604.6L816.7 606.7L817.0 608.9L817.0 609.3M818.5 630.9L818.7 633.6L818.9 636.3L819.1 638.9L819.2 641.6L819.4 644.2L819.6 646.9L819.8 649.6L820.0 652.5L820.1 655.4L820.3 657.4L820.4 659.5L820.5 661.7L820.6 664.0L820.6 664.2M821.7 685.4L821.8 688.0L822.0 690.7L822.1 693.4L822.2 696.0L822.3 698.7L822.5 701.3L822.6 704.0L822.7 706.8L822.8 709.5L823.0 712.4L823.1 715.2L823.2 718.0L823.2 718.3M824.2 739.2L824.4 741.5L824.5 743.7L824.6 745.8L824.7 747.8L824.9 750.7L825.1 753.5L825.3 756.2L825.4 758.9L825.6 761.5L825.8 764.1L826.0 766.7L826.2 769.4L826.3 771.3M827.6 791.8L827.9 794.0L828.2 796.0L828.7 798.5L829.2 800.8L829.7 802.9L830.4 805.2L831.2 807.5L831.9 809.6L832.5 811.6L833.4 813.7L834.2 815.6L835.1 817.8L835.9 819.7L836.6 821.7L836.6 821.8M842.2 841.0L842.7 843.0L843.2 845.2L843.7 847.6L844.2 849.8L844.8 852.2L846.8 852.0L847.5 849.7L848.0 847.3L848.5 844.8L848.9 842.8L849.3 840.7L849.6 838.7L849.9 836.6L850.2 835.0M852.4 814.3L852.6 811.9L852.7 809.5L852.8 807.2L852.9 804.9L853.0 802.6L853.1 800.2L853.2 797.8L853.3 795.3L853.4 792.7L853.5 790.0L853.6 787.2L853.8 784.2L853.8 782.2L853.9 780.6M855.0 759.1L855.2 757.0L855.3 754.9L855.5 752.7L855.7 750.5L855.9 748.3L856.1 746.1L856.3 743.9L856.5 741.8L856.7 739.7L856.9 737.7L857.2 734.8L857.6 732.1L857.9 729.8L857.9 729.5M865.2 722.4L865.8 724.7L866.2 726.9L866.6 729.4L867.0 732.2L867.2 734.2L867.5 736.3L867.7 738.4L868.0 740.5L868.2 742.6L868.5 744.7L868.7 746.8L868.9 748.8L869.2 751.6L869.5 754.3L869.5 755.2M871.0 776.2L871.2 778.6L871.4 780.9L871.5 783.1L871.7 785.2L871.9 787.2L872.1 789.3L872.3 791.4L872.5 793.5L872.7 795.8L872.9 798.3L873.1 800.9L873.2 803.7L873.4 806.7L873.5 808.7L873.6 809.8M874.8 831.2L874.9 833.3L875.0 835.3L875.2 837.4L875.3 839.5L875.4 841.6L875.6 843.7L875.7 845.7L875.8 847.8L875.9 849.8L876.1 851.8L876.3 854.7L876.4 857.6L876.6 860.3L876.8 862.9L876.9 863.8M878.7 884.5L879.0 887.6L879.2 889.7L879.4 892.0L879.6 894.4L879.9 896.8L880.1 899.2L880.3 901.6L880.6 903.9L880.9 906.2L881.1 908.4L881.4 910.4L881.6 911.7M888.0 924.4L888.5 922.4L888.8 920.3L889.1 917.8L889.4 914.9L889.5 912.7L889.7 910.5L889.9 908.1L890.0 905.6L890.2 903.1L890.3 900.4L890.5 897.7L890.7 894.9L890.9 892.4M892.0 871.9L892.2 867.9L892.3 865.9L892.4 863.9L892.6 859.9L892.8 856.0L893.0 852.2L893.2 848.6L893.4 845.2L893.5 842.1L893.7 839.2L893.7 838.7M894.7 817.5L894.9 814.8L895.1 812.1L895.3 809.5L895.6 807.1L895.9 804.7L896.3 802.5L896.7 800.5L897.3 798.0L897.8 795.7L898.4 793.5L898.9 791.5L899.1 790.6M902.2 785.1L902.5 787.8L902.7 790.8L902.9 792.8L903.1 795.0L903.2 797.2L903.4 799.4L903.5 801.6L903.7 803.8L903.8 805.9L904.0 807.9L904.1 810.0L904.2 812.0L904.2 812.4M905.0 829.7L905.1 832.0L905.2 834.3L905.3 836.6L905.4 838.9L905.6 841.1L905.7 843.4L905.8 845.7L906.0 848.0L906.1 850.2L906.2 852.5L906.4 854.8L906.5 857.2L906.7 859.5L906.8 861.8L906.9 862.7M908.1 883.6L908.2 886.1L908.3 888.6L908.4 891.1L908.6 893.6L908.7 896.1L908.8 898.7L908.9 901.3L909.1 904.0L909.2 906.7L909.3 909.4L909.4 912.2L909.6 915.0L909.6 915.4M910.3 935.7L910.5 939.0L910.6 942.2L910.7 945.4L910.8 948.6L910.9 951.6L911.1 954.6L911.2 957.4L911.3 960.0L911.4 962.5L911.5 964.9L911.7 967.1L911.8 969.3L911.8 969.7M913.3 991.4L913.4 993.5L913.6 995.6L913.8 997.8L913.9 1000.0L914.1 1002.1L914.3 1004.3L914.5 1006.5L914.7 1008.6L914.8 1010.6L915.1 1013.5L915.5 1016.2L915.8 1018.6L915.9 1019.6M925.3 1029.9L926.1 1028.1L926.7 1026.1L927.4 1023.6L928.0 1020.7L928.5 1018.6L928.9 1016.5L929.4 1014.3L929.8 1012.0L930.2 1009.7L930.6 1007.5L931.0 1005.3L931.4 1003.2L931.7 1001.2L932.1 998.4L932.2 997.7M934.5 976.9L934.7 974.2L934.9 971.4L935.1 968.5L935.2 965.5L935.3 963.5L935.5 961.4L935.6 959.4L935.7 957.3L935.8 955.3L935.9 953.3L936.0 950.4L936.2 947.5L936.4 944.8L936.4 943.6M937.9 922.4L938.1 919.6L938.4 916.6L938.6 914.6L938.7 912.5L938.9 910.3L939.1 908.2L939.3 906.0L939.5 903.8L939.7 901.6L939.8 899.5L940.0 897.4L940.2 895.3L940.4 893.3L940.6 890.4L940.7 889.3M942.3 868.2L942.5 865.8L942.7 863.1L942.9 860.2L943.1 857.1L943.4 853.9L943.6 850.5L943.9 846.9L944.2 843.3L944.4 839.6L944.7 835.8L944.7 835.8M946.1 815.2L946.3 811.6L946.5 808.1L946.7 804.5L946.9 800.9L947.0 797.3L947.2 793.7L947.4 790.0L947.5 786.4L947.7 782.8L947.7 782.1M948.9 761.0L949.1 757.4L949.4 753.6L949.7 749.8L950.0 746.0L950.3 742.0L950.6 738.1L951.0 734.2L951.3 730.3L951.5 727.5M953.6 706.3L953.8 703.6L954.1 700.9L954.4 698.3L954.7 695.8L954.9 693.4L955.2 691.1L955.4 688.9L955.7 686.9L956.0 684.2L956.4 682.0L956.8 679.8L958.2 681.4L958.4 682.6M960.2 703.0L960.5 705.8L960.8 708.5L961.1 711.3L961.4 714.1L961.7 717.1L961.8 719.1L962.0 721.2L962.2 723.5L962.4 725.8L962.6 728.2L962.8 730.8L962.9 733.5L963.1 736.4L963.1 737.1M964.0 758.8L964.1 762.6L964.3 766.5L964.4 770.3L964.5 774.2L964.6 778.0L964.7 781.8L964.8 785.5L964.9 789.1L964.9 790.2M965.3 810.2L965.3 813.7L965.3 817.2L965.4 820.6L965.4 824.1L965.5 827.6L965.5 831.0L965.6 834.5L965.7 838.0L965.8 841.5L965.8 843.0M966.7 863.8L966.9 867.6L967.1 871.3L967.2 875.0L967.4 878.5L967.6 882.0L967.8 885.2L967.9 888.3L968.1 891.2L968.2 893.9L968.3 896.3L968.3 896.9M969.5 918.0L969.7 920.9L969.9 922.9L970.1 924.9L970.3 927.0L970.5 929.2L970.7 931.4L970.9 933.5L971.1 935.7L971.4 937.9L971.6 940.1L971.8 942.2L972.0 944.2L972.3 946.2L972.6 949.1L972.9 952.0L973.0 952.8M976.5 972.2L977.1 969.6L977.6 966.9L977.9 964.8L978.2 962.6L978.5 960.3L978.8 957.9L979.1 955.5L979.4 953.1L979.7 950.8L980.0 948.6L980.3 946.6L980.7 943.9L981.0 941.5M983.5 921.8L983.7 919.1L983.8 916.2L983.9 913.2L984.0 911.1L984.1 909.1L984.1 907.0L984.1 904.9L984.2 902.8L984.2 900.8L984.2 898.7L984.3 895.8L984.4 892.9L984.6 890.2L984.7 888.7M987.4 867.7L987.6 865.0L987.8 862.1L987.9 858.9L988.1 855.5L988.3 852.0L988.5 848.3L988.7 844.5L988.8 840.6L989.0 836.6L989.1 834.5M990.2 813.4L990.4 809.7L990.7 806.0L990.9 802.2L991.1 798.3L991.4 794.4L991.7 790.6L991.9 786.7L992.2 782.9L992.4 780.3M993.9 759.2L994.1 756.5L994.3 753.9L994.5 751.6L994.6 749.3L994.8 747.2L995.0 745.2L995.2 742.3L995.4 739.6L995.7 737.0L996.0 734.4L996.3 731.9L996.7 729.2L997.1 726.7M1002.0 706.5L1002.5 704.1L1002.9 701.4L1003.3 698.6L1003.8 695.6L1004.2 692.7L1004.6 689.8L1004.9 687.2L1005.3 684.8L1005.6 682.8L1006.1 680.6L1007.3 682.6L1007.4 683.6M1010.0 703.2L1010.2 705.4L1010.3 707.8L1010.4 710.3L1010.6 713.0L1010.7 715.8L1010.8 718.6L1010.9 721.5L1011.0 724.4L1011.1 727.2L1011.2 730.0L1011.3 732.8L1011.3 735.5L1011.3 736.7M1011.5 758.0L1011.6 760.7L1011.7 763.5L1011.9 766.2L1012.0 768.9L1012.2 771.6L1012.4 774.3L1012.5 777.0L1012.7 779.7L1012.9 782.3L1013.0 785.0L1013.1 787.6L1013.3 790.3L1013.3 790.6M1014.3 811.3L1014.4 814.1L1014.5 816.9L1014.6 819.8L1014.6 822.7L1014.7 825.7L1014.8 828.6L1014.8 831.5L1014.9 834.4L1014.9 837.2L1015.0 840.0L1015.0 842.7L1015.1 844.7M1015.5 866.0L1015.7 869.0L1015.8 871.0L1016.0 873.2L1016.1 875.4L1016.3 877.6L1016.5 879.8L1016.7 882.0L1016.9 884.2L1017.1 886.4L1017.3 888.6L1017.5 890.7L1017.6 892.8L1017.9 895.7L1018.1 898.4L1018.1 898.4M1019.4 919.1L1019.6 921.9L1019.7 923.9L1019.8 926.0L1020.0 928.2L1020.1 930.4L1020.2 932.7L1020.4 934.9L1020.5 937.2L1020.7 939.5L1020.8 941.7L1021.0 943.9L1021.1 946.0L1021.3 948.0L1021.6 950.8L1021.7 951.8M1025.2 972.4L1025.7 975.2L1026.1 977.2L1026.4 979.3L1026.8 981.4L1027.3 983.7L1027.7 985.9L1028.1 988.2L1028.5 990.4L1028.9 992.7L1029.3 994.9L1029.7 997.1L1030.1 999.2L1030.4 1001.2L1030.9 1004.1L1031.1 1005.7M1033.8 1027.1L1034.2 1029.2L1034.7 1031.4L1035.3 1033.7L1036.1 1035.8L1036.9 1037.7L1037.7 1039.6L1038.6 1041.6L1040.1 1043.1L1042.0 1042.1L1043.2 1040.4L1044.4 1038.4L1045.5 1036.6L1046.1 1035.6M1061.2 1030.0L1062.0 1027.9L1062.6 1025.6L1063.0 1023.5L1063.4 1021.2L1063.8 1018.9L1064.2 1016.6L1064.6 1014.5L1065.0 1012.3L1065.5 1010.0L1065.9 1007.6L1066.3 1005.3L1066.7 1003.0L1067.2 1000.8L1067.2 1000.4M1073.4 985.4L1074.2 987.3L1074.9 989.5L1075.5 991.6L1076.2 993.8L1076.8 996.1L1077.5 998.4L1078.2 1000.5L1078.9 1002.7L1079.6 1004.8L1080.3 1007.0L1081.1 1009.2L1081.9 1011.6L1082.6 1014.0L1083.3 1016.5L1083.7 1017.7M1088.6 1038.7L1089.6 1040.7L1091.2 1041.9L1093.2 1042.3L1095.2 1042.8L1097.2 1043.1L1099.3 1043.1L1101.3 1042.9L1103.3 1042.5L1105.2 1041.9L1107.2 1041.0L1109.2 1040.2L1110.9 1038.7L1111.7 1036.8L1112.3 1034.8L1112.7 1032.5M1114.9 1012.5L1115.2 1009.9L1115.4 1007.8L1115.6 1005.7L1115.9 1003.6L1116.1 1001.5L1116.4 999.3L1116.6 997.2L1116.9 995.1L1117.1 993.0L1117.4 991.0L1117.8 988.0L1118.0 986.0L1118.3 984.0L1118.6 982.0L1118.7 981.1M1121.7 961.2L1122.1 958.9L1122.5 956.7L1122.9 954.6L1123.2 952.6L1123.7 950.1L1124.2 947.8L1124.7 945.8L1125.4 943.4L1126.0 941.4L1126.8 939.4L1127.7 937.5L1129.2 936.1L1131.1 936.8L1132.3 938.5L1132.7 939.3M1139.2 958.3L1141.2 958.8L1142.9 957.6L1144.0 955.8L1144.9 953.9L1145.5 951.5L1146.0 949.1L1146.3 947.0L1146.6 944.8L1146.8 942.5L1147.1 940.2L1147.3 937.9L1147.6 935.7L1147.8 933.7L1148.2 931.0L1148.4 929.5M1152.8 909.7L1153.9 911.7L1154.7 913.7L1155.3 915.8L1156.0 918.1L1156.6 920.5L1157.2 922.6L1157.8 924.9L1158.4 927.4L1159.0 930.0L1159.4 932.0L1159.8 934.1L1160.2 936.1L1160.5 938.2L1160.8 940.3L1160.8 940.7M1161.6 961.2L1161.9 963.8L1162.2 966.4L1162.6 968.9L1163.1 971.3L1163.5 973.6L1163.9 975.5L1164.4 977.6L1164.9 979.8L1165.5 981.8L1166.4 983.6L1167.1 981.6L1167.4 979.2L1167.6 976.8L1167.8 974.2M1169.3 953.5L1169.5 951.5L1169.7 949.4L1169.9 947.3L1170.1 945.1L1170.3 943.0L1170.6 940.8L1170.8 938.6L1171.0 936.4L1171.2 934.3L1171.4 932.1L1171.6 930.1L1171.8 928.0L1172.1 925.1L1172.3 922.3L1172.4 920.9M1173.2 900.0L1173.3 898.0L1173.5 895.4L1173.7 892.9L1174.0 890.5L1174.2 888.0L1174.4 885.3L1174.6 883.1L1174.8 880.8L1174.9 878.3L1175.0 875.5L1175.2 872.6L1175.3 870.6L1175.3 868.5L1175.4 867.3M1176.3 846.4L1176.4 843.8L1176.6 841.3L1176.7 838.8L1176.8 836.4L1177.0 834.0L1177.1 831.5L1177.3 829.1L1177.4 826.7L1177.5 824.2L1177.7 821.6L1177.8 819.1L1178.0 816.6L1178.1 814.0L1178.2 813.6M1179.7 792.8L1180.0 790.4L1180.2 788.1L1180.5 785.8L1180.7 783.7L1181.0 781.6L1181.3 779.1L1181.7 776.9L1182.0 774.6L1182.4 772.3L1182.8 770.2L1183.3 768.2L1184.8 770.2L1185.0 772.3L1185.1 772.6M1186.8 793.0L1187.1 796.0L1187.4 798.1L1187.7 800.2L1187.9 802.5L1188.2 804.7L1188.5 807.0L1188.8 809.2L1189.1 811.5L1189.4 813.8L1189.6 816.0L1189.9 818.1L1190.1 820.2L1190.4 822.3L1190.7 825.1L1190.8 826.2M1192.7 847.4L1193.0 850.2L1193.1 852.2L1193.3 854.4L1193.5 856.5L1193.7 858.8L1193.9 861.0L1194.1 863.3L1194.3 865.6L1194.5 867.8L1194.7 870.0L1194.9 872.1L1195.1 874.1L1195.4 876.9L1195.7 879.4L1195.9 881.1M1203.2 896.8L1203.9 894.4L1204.3 892.3L1204.5 889.6L1204.7 887.6L1204.9 885.5L1205.0 883.2L1205.2 880.8L1205.3 878.4L1205.5 876.0L1205.7 873.6L1205.9 871.2L1206.1 869.0L1206.3 866.8L1206.6 864.8L1207.0 862.1L1207.0 862.1M1212.5 840.6L1213.0 838.1L1213.4 835.6L1213.7 833.0L1214.1 830.4L1214.5 827.8L1214.8 825.2L1215.2 822.7L1215.5 820.1L1215.9 817.7L1216.4 815.3L1216.9 813.0L1217.2 811.8M1222.2 793.9L1223.2 791.9L1224.5 789.9L1225.9 788.2L1227.3 786.6L1228.6 784.8L1229.8 782.8L1230.6 780.8L1231.4 778.6L1232.1 776.4L1232.8 774.0L1233.4 771.6L1234.0 769.1L1234.5 766.6L1235.0 764.1L1235.1 763.1M1237.6 741.7L1238.2 739.6L1239.1 737.6L1240.2 735.9L1242.0 737.1L1242.8 739.3L1243.4 741.6L1243.9 743.6L1244.4 745.6L1244.8 747.7L1245.2 750.0L1245.6 752.0L1245.9 754.1L1246.2 756.4L1246.6 758.9L1246.9 761.1M1249.5 782.3L1249.9 785.1L1250.1 787.2L1250.4 789.2L1250.7 791.4L1250.9 793.6L1251.2 795.8L1251.5 798.0L1251.8 800.2L1252.1 802.4L1252.3 804.5L1252.6 806.6L1252.9 808.7L1253.2 811.6L1253.5 814.3L1253.5 814.3M1255.3 834.8L1255.6 837.6L1255.8 840.5L1256.1 842.6L1256.3 844.7L1256.5 846.9L1256.7 849.1L1256.9 851.3L1257.1 853.5L1257.3 855.7L1257.5 857.9L1257.7 860.0L1257.9 862.1L1258.1 865.0L1258.3 867.7L1258.3 868.1M1259.2 889.3L1259.4 892.1L1259.6 894.1L1259.8 896.2L1260.0 898.4L1260.2 900.6L1260.4 902.8L1260.6 905.0L1260.8 907.2L1261.0 909.4L1261.2 911.5L1261.4 913.6L1261.6 915.7L1261.9 918.6L1262.2 921.3L1262.2 921.4M1264.1 941.8L1264.6 944.6L1265.0 946.7L1265.4 949.0L1265.8 951.3L1266.3 953.6L1266.7 956.0L1267.2 958.4L1267.7 960.8L1268.3 963.1L1268.8 965.2L1269.3 967.3L1270.0 970.0L1270.5 971.6M1283.5 971.0L1284.4 969.0L1285.3 966.6L1286.3 963.9L1287.0 961.9L1287.7 959.9L1288.4 957.8L1289.1 955.6L1289.8 953.4L1290.5 951.2L1291.2 949.0L1291.8 946.9L1292.4 944.8L1292.9 942.8L1293.7 939.9L1294.3 937.0L1294.4 936.6M1298.4 914.0L1298.8 911.6L1299.2 909.3L1299.6 907.0L1300.0 904.8L1300.4 902.6L1300.7 900.6L1301.2 898.2L1301.7 896.2L1302.4 894.3L1303.7 892.6L1305.8 892.5L1307.6 893.7L1308.7 895.4M1320.7 908.1L1322.5 907.1L1323.8 905.3L1324.7 903.3L1325.4 901.3L1326.1 899.3L1326.7 896.9L1327.2 895.0L1327.7 892.9L1328.2 890.7L1328.7 888.5L1329.2 886.2L1329.7 883.8L1330.2 881.5L1330.7 879.2L1331.2 876.9L1331.2 876.7M1335.4 855.5L1335.9 853.3L1336.3 851.1L1336.8 848.9L1337.2 846.8L1337.6 844.7L1338.1 842.7L1338.7 840.2L1339.5 837.9L1340.3 835.9L1341.5 833.8L1342.9 832.2L1344.4 830.8L1346.2 829.4L1348.0 828.1L1349.0 827.2M1364.8 813.9L1366.8 813.8L1368.9 814.2L1371.0 815.0L1372.8 816.0L1374.5 817.5L1375.7 819.4L1376.7 821.2L1378.4 822.4L1380.0 820.8L1381.2 818.9L1382.3 817.0L1383.5 815.3L1384.8 813.7L1386.8 813.4L1387.5 815.4M1391.7 835.9L1392.2 838.4L1392.8 841.4L1393.2 843.6L1393.6 846.0L1394.1 848.4L1394.5 850.8L1395.0 853.2L1395.4 855.6L1395.9 857.8L1396.3 859.8L1396.9 862.5L1397.2 863.3M1402.1 851.9L1403.2 850.1L1404.5 848.5L1406.0 847.2L1407.9 845.9L1409.8 844.9L1411.7 843.9L1413.5 842.8L1415.3 841.6L1417.1 840.0L1418.4 838.2L1419.5 836.4L1420.3 834.6L1420.9 832.4L1421.4 830.4L1421.9 828.1L1422.3 826.1L1422.7 823.7L1423.0 821.4M1426.0 796.7L1426.6 794.5L1427.3 792.4L1428.1 790.4L1428.9 788.5L1430.0 786.3L1431.1 784.3L1432.3 782.3L1433.5 780.6L1435.5 781.1L1436.2 783.1L1436.8 785.2L1437.4 787.3L1437.9 789.7L1438.4 791.8L1438.7 793.5M1441.9 815.1L1442.2 817.3L1442.4 819.6L1442.7 821.9L1442.9 824.2L1443.1 826.6L1443.4 829.0L1443.6 831.3L1443.8 833.7L1444.1 836.0L1444.3 838.3L1444.5 840.5L1444.7 842.7L1444.7 842.8M1446.8 860.4L1447.4 863.3L1447.8 865.4L1448.3 867.6L1448.8 870.0L1449.3 872.4L1449.8 874.8L1450.4 877.2L1451.0 879.6L1451.5 881.8L1452.0 883.9L1452.6 885.9L1453.1 887.9M1461.2 882.3L1462.1 880.4L1462.9 878.4L1463.7 876.2L1464.5 874.2L1465.6 872.2L1467.5 871.3L1468.7 873.3L1469.5 875.4L1470.2 877.3L1470.8 879.5L1471.4 881.7L1472.0 884.1L1472.5 886.4L1473.1 888.7L1473.7 890.9L1474.0 892.4M1478.4 914.6L1479.1 916.7L1481.0 916.0L1481.9 914.1L1482.5 912.2L1483.2 909.8L1483.9 907.0L1484.4 905.1L1484.9 903.1L1485.4 901.2L1486.2 898.3L1486.9 895.7L1487.5 893.7M1497.0 901.5L1497.7 903.7L1498.5 906.5L1499.1 908.6L1499.7 910.8L1500.3 913.1L1500.9 915.5L1501.5 917.9L1502.1 920.3L1502.8 922.6L1503.4 924.8L1504.0 926.8L1504.8 929.5L1505.4 931.2M1519.8 942.5L1520.5 944.4L1521.3 946.8L1522.0 949.6L1522.5 951.6L1523.0 953.7L1523.5 955.9L1524.0 958.1L1524.5 960.3L1524.9 962.6L1525.3 964.7L1525.8 966.8L1526.2 968.8L1526.7 971.6L1527.1 973.8M1530.1 994.1L1530.5 997.0L1530.7 999.1L1530.9 1001.3L1531.2 1003.6L1531.5 1005.9L1531.7 1008.2L1532.0 1010.6L1532.2 1013.0L1532.4 1015.3L1532.7 1017.6L1532.9 1019.9L1533.1 1022.0L1533.3 1024.1L1533.6 1026.8M1535.3 1047.6L1535.7 1050.6L1536.0 1052.7L1536.3 1055.0L1536.6 1057.4L1537.0 1059.9L1537.3 1062.4L1537.7 1064.9L1538.1 1067.4L1538.5 1069.9L1538.9 1072.4L1539.3 1074.8L1539.6 1077.1L1540.0 1079.2L1540.2 1080.2M1544.3 1100.8L1545.0 1103.0L1545.6 1105.0L1546.2 1107.1L1547.4 1108.7L1549.2 1109.7L1551.4 1110.4L1553.5 1110.8L1556.0 1111.0L1558.0 1111.2L1560.1 1111.2L1562.3 1111.3L1564.6 1111.4L1566.9 1111.4L1569.2 1111.5L1571.4 1111.5M1592.4 1111.5L1594.4 1111.5L1596.0 1111.5" stroke="#333333" stroke-width="3.2" stroke-linecap="butt"/>
</g>
<g fill="#262626" font-size="82.4">
<text transform="translate(229.8 76.3) scale(0.960 1)" text-anchor="end">0.6</text>
<text transform="translate(229.2 434.0) scale(0.960 1)" text-anchor="end">0.4</text>
<text transform="translate(229.2 788.3) scale(0.960 1)" text-anchor="end">0.2</text>
<text transform="translate(230.5 1143.0) scale(0.960 1)" text-anchor="end">0</text>
<text transform="translate(403.5 1220.4) scale(0.975 1)" text-anchor="middle">-20</text>
<text transform="translate(690.8 1220.4) scale(0.975 1)" text-anchor="middle">-10</text>
<text transform="translate(982.9 1220.4) scale(0.975 1)" text-anchor="middle">0</text>
<text transform="translate(1271.8 1220.4) scale(0.975 1)" text-anchor="middle">10</text>
<text transform="translate(1559.6 1220.4) scale(0.975 1)" text-anchor="middle">20</text>
</g>
<text transform="translate(983.0 1341.6) scale(0.962 1)" text-anchor="middle" font-size="92" fill="#262626">Energy(eV)</text>
<text transform="translate(87.6 584.2) rotate(-90) scale(0.962 1)" text-anchor="middle" font-size="90.5" fill="#262626">PDOS(Electrons/eV)</text>
<path d="M1135 162.9H1238" stroke="#0000ff" stroke-width="3.6"/>
<path d="M1135 235.7H1238" stroke="#ff5a5a" stroke-width="5.2"/>
<path d="M1136 307.9H1169.7M1190.4 307.9H1223.1" stroke="#555" stroke-width="3.8"/>
<g font-size="57.5" fill="#000" stroke="#fff" stroke-width="0">
<text transform="translate(1244.5 184.5) scale(0.910 1)">Inner C atom</text>
<text transform="translate(1244.5 258.3) scale(0.910 1)">Out C atom</text>
<text transform="translate(1244.5 329.6) scale(0.910 1)">Left C atom</text>
</g>
</g>
</svg></body></html>
